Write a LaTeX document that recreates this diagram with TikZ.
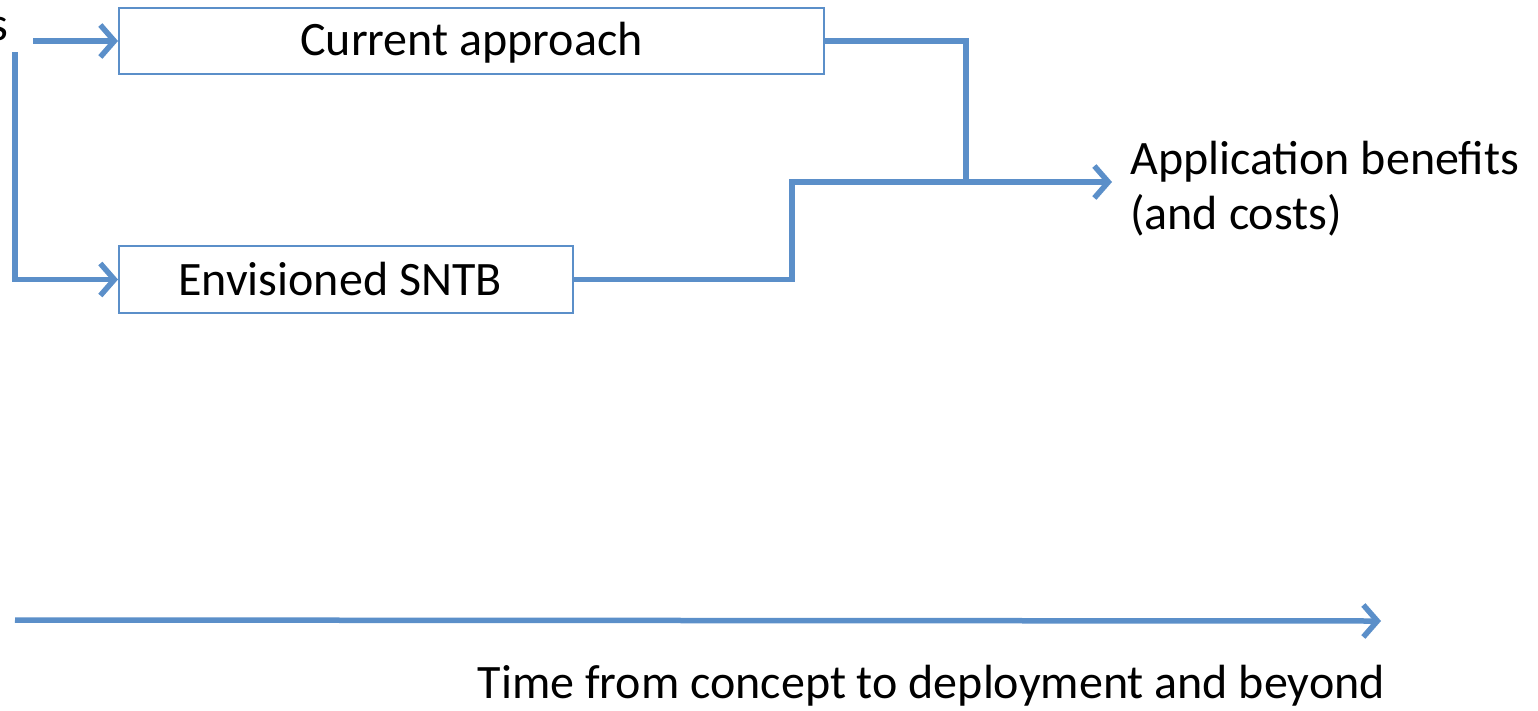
\documentclass[tikz,border=0pt]{standalone}
\usepackage{fontspec}
\setmainfont{Carlito}
\usetikzlibrary{arrows.meta}
\definecolor{lineblue}{RGB}{91,143,201}
\tikzset{
  box/.style={draw=lineblue, line width=2pt, fill=white, inner sep=0pt, anchor=north west},
  conn/.style={draw=lineblue, line width=5.5pt},
  arr/.style={conn, -{Straight Barb[length=14pt, width=32pt, line width=5.5pt]}},
  lbl/.style={font=\fontsize{48}{55}\selectfont, inner sep=0pt}
}
\begin{document}
\begin{tikzpicture}[x=1pt, y=-1pt]
\useasboundingbox (0,0) rectangle (1538,710);
\node[box, minimum width=705pt, minimum height=66pt] (ca) at (118,7) {};
\node[lbl] at ([yshift=-2pt]ca.center) {Current approach};
\node[box, minimum width=454pt, minimum height=67pt] (es) at (118,245) {};
\node[lbl] at ([xshift=-6pt]es.center) {Envisioned SNTB};
\node[lbl, anchor=base east] (s) at (8,40) {s};
\coordinate (st) at (33,41);
\coordinate (top) at (15,52);
\coordinate (j1) at (966,182);
\coordinate (j1e) at (1010,182);
\coordinate (j2) at (792,182);
\coordinate (ab) at (1112,182);
\node[lbl, anchor=north west, align=left] (app) at (1130,141) {Application benefits\\(and costs)};
\draw[arr] (st) -- (ca.west);
\draw[arr] (top) |- (es.west);
\draw[conn] (ca.east) -| (j1) -- (j1e);
\draw[arr] (es.east) -| (j2) -- (ab);
\coordinate (t0) at (15,620);
\coordinate (t1) at (1381,621);
\draw[arr] (t0) -- (t1);
\node[lbl, anchor=north east] (time) at (1385,665) {Time from concept to deployment and beyond};
\end{tikzpicture}
\end{document}
